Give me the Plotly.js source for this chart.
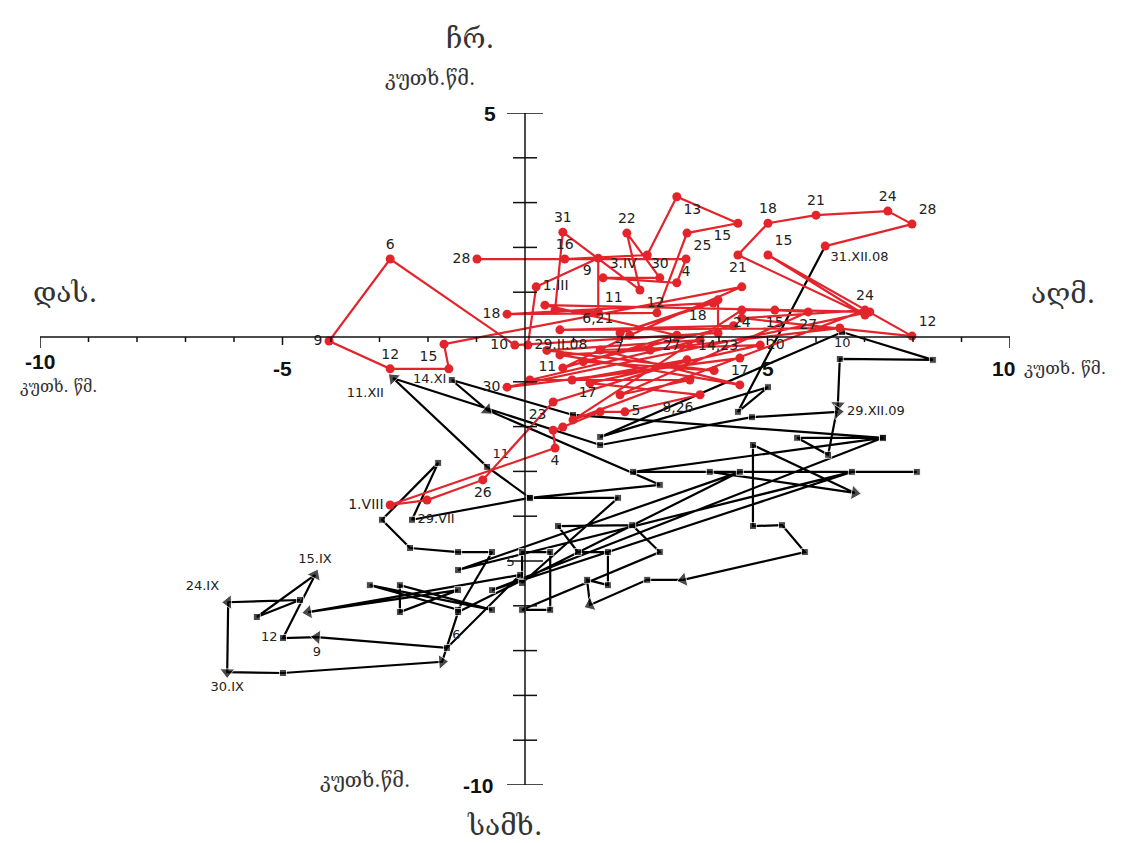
<!DOCTYPE html>
<html><head><meta charset="utf-8">
<script src="https://cdn.plot.ly/plotly-3.0.1.min.js"></script>
<style>body{margin:0;background:#fff}#chart{width:1139px;height:843px}</style>
</head><body><div id="chart"></div>
<script>
// 2008 track (red)
const redX = [0.06,0.23,1.51,1.51,0.62,0.78,2.37,2.10,2.78,1.61,
  3.13,3.32,-0.99,0.82,2.52,3.13,4.39,3.34,2.72,-0.37,
  3.88,1.96,3.98,3.98,-0.21,-2.78,-4.04,-2.78,-1.57,-1.67,
  4.47,2.16,0.78,3.13,0.41,7.11,-0.37,4.43,0.97,3.34,
  0.58,-0.87,-2.02,-2.78,0.62,0.58,0.78,1.55,2.06,3.61,
  1.34,4.85,1.55,4.43,0.72,2.58,6.49,0.72,4.30,1.20,
  3.90,0.45,3.61,0.10,3.40,1.96,5.84,5.15,4.47,0.99,
  7.01,4.47,7.98,5.01,7.01,4.39,5.01,6.00,7.48,7.98,
  6.19];
const redY = [-0.18,1.12,1.76,0.56,0.60,2.34,1.05,2.32,1.32,1.32,
  1.21,1.74,1.74,1.74,1.83,3.13,2.54,2.32,0.54,0.51,
  0.76,0.09,0.83,0.09,-0.18,1.74,-0.09,-0.71,-0.71,-0.16,
  1.12,0.04,-0.69,0.04,0.71,0.56,-1.12,-0.47,-0.96,-0.51,
  -1.45,-3.19,-3.64,-3.75,-2.48,-2.08,-2.01,-1.67,-1.67,-1.29,
  -1.03,-0.18,-0.29,-1.07,-0.40,-0.29,0.20,0.16,0.25,-0.55,
  -0.75,-0.30,-0.07,-0.96,-0.96,-1.29,0.56,0.60,0.60,-1.85,
  0.60,0.42,0.02,1.83,0.49,1.83,2.54,2.72,2.81,2.52,
  2.03];
const redLabels = ["29.II.08","1.III","9","11","","31","12","22","30","3.IV",
  "","4","28","16","","13","15","25","","18",
  "18","6,21","","14,23","10","6","9","12","","15",
  "","7","11","","","","30","17","17","27",
  "23","26","","1.VIII","4","","","","5","8,26",
  "","20","","","","","","","","",
  "","","","","","","27","15","24","",
  "24","","12","15","","21","18","21","24","28",
  ""];

// 2009 track (black)
const blackX = [6.19,4.39,5.01,1.55,6.54,8.41,6.49,6.45,6.25,5.61,7.38,2.23,8.08,3.81,6.80,4.70,4.70,5.30,5.77,3.26,2.52,1.34,1.28,1.71,1.71,1.09,0.68,2.21,2.78,-0.06,0.52,0.52,-0.06,-0.06,1.92,0.10,-2.33,-1.79,-2.95,-2.37,-1.38,-0.68,-1.38,-3.20,-0.68,-2.58,-2.58,-1.38,-4.47,-0.10,-1.61,-4.29,-4.99,-4.33,-5.53,-4.64,-6.12,-6.14,-4.99,-1.71,-1.38,4.43,-1.38,6.74,-0.68,7.38,0.99,-1.51,-0.78,2.78,0.10,-0.78,-2.72,1.55,4.68,6.45];
const blackY = [2.03,-1.67,-1.12,-2.23,0.11,-0.51,-0.49,-1.52,-2.63,-2.25,-2.25,-3.01,-3.01,-3.01,-3.48,-2.41,-4.22,-4.20,-4.80,-5.42,-5.42,-5.98,-5.42,-5.54,-4.80,-4.80,-4.22,-4.20,-4.80,-6.09,-6.09,-4.80,-4.80,-5.49,-3.59,-3.59,-4.08,-2.81,-4.08,-4.71,-4.80,-4.80,-6.09,-5.54,-6.09,-5.54,-6.14,-5.65,-6.14,-5.31,-6.94,-6.70,-6.72,-5.31,-6.25,-5.87,-5.92,-7.48,-7.50,-7.25,-6.14,-3.01,-5.20,-3.01,-5.65,-2.25,-1.74,-0.96,-1.63,-3.30,-3.59,-2.90,-0.92,-2.41,-1.79,-1.67];
const blackLabels = ["31.XII.08","","","","10","","","","","","","","","","","","","","","","","","","","","","","","","","","","","","","","29.VII","","","","","","","","","","","","","5","6","9","12","15.IX","","","24.IX","30.IX","","","","","","","","","","14.XI","","","","11","11.XII","","","29.XII.09"];
const blackArrowIdx = [7,14,19,21,48,51,53,56,57,59,68,72,75];

const xTickVals = [-10,-5,5,10];
const xTickText = ["-10","-5","5","10"];
const yTickVals = [5,-10];
const yTickText = ["5","-10"];

// ---- styling ----
const redPosByIdx = {0:"middle right",1:"middle right",2:"bottom left",3:"top right",5:"top center",6:"bottom right",7:"top center",8:"top center",9:"top right",11:"bottom center",12:"middle left",13:"top center",15:"bottom right",16:"bottom left",17:"bottom right",19:"middle left",20:"bottom left",21:"top left",23:"bottom center",24:"middle left",25:"top center",26:"middle left",27:"top center",29:"bottom left",31:"bottom left",32:"middle left",36:"middle left",37:"bottom center",38:"bottom right",39:"top left",40:"bottom left",41:"bottom center",43:"middle left",44:"bottom center",48:"middle right",49:"bottom left",51:"middle right",66:"bottom center",67:"bottom center",68:"bottom center",70:"top center",72:"top right",73:"top right",75:"bottom center",76:"top center",77:"top center",78:"top center",79:"top right"};
const redPos = redX.map((_,i)=> redPosByIdx[i] || "top center");

const blackPosMap = {"31.XII.08":"bottom right","10":"bottom center","29.VII":"middle right","5":"top left","6":"top right","9":"bottom center","12":"middle left","15.IX":"top center","24.IX":"top left","30.IX":"bottom center","14.XI":"middle left","11":"top right","11.XII":"bottom left","29.XII.09":"middle right"};
const blackPos = blackLabels.map(t => blackPosMap[t] || "top center");
const isArrow = blackX.map((_,i)=> blackArrowIdx.includes(i));
const blackSym = isArrow.map(a => a ? "triangle-up" : "square");
const blackSize = isArrow.map(a => a ? 13 : 7);
// arrow heads point along the path, in screen pixels
const PXX = 48.5, PXY = 44.8;
const blackAngle = blackX.map((x,i)=>{
  if (!isArrow[i] || i===0) return 0;
  const dx = (x - blackX[i-1]) * PXX, dy = (blackY[i] - blackY[i-1]) * PXY;
  return Math.atan2(dx, dy) * 180 / Math.PI;
});

const traces = [
  {x: blackX, y: blackY, mode: "lines+markers+text", text: blackLabels, textposition: blackPos,
   textfont: {family: "DejaVu Sans", size: 13, color: "#222"},
   line: {color: "#000", width: 2.2},
   marker: {color: "#000", symbol: blackSym, size: blackSize, angle: blackAngle},
   cliponaxis: false, hoverinfo: "x+y"},
  {x: redX, y: redY, mode: "lines+markers+text", text: redLabels, textposition: redPos,
   textfont: {family: "DejaVu Sans", size: 14, color: "#222"},
   line: {color: "#e3242b", width: 2.2},
   marker: {color: "#e3242b", symbol: "circle", size: 9},
   cliponaxis: false, hoverinfo: "x+y"}
];

const shapes = [
  {type:"line", xref:"x", yref:"y", x0:-10, x1:10, y0:0, y1:0, line:{color:"#111", width:1.5}},
  {type:"line", xref:"x", yref:"y", x0:0, x1:0, y0:-10, y1:5, line:{color:"#111", width:1.5}}
];
for (let i=-10;i<=10;i++){
  if (i===0) continue;
  const len = (Math.abs(i)===10) ? 11 : (Math.abs(i)===5 ? 8 : 5);
  shapes.push({type:"line", xref:"x", yref:"y", ysizemode:"pixel", yanchor:0, x0:i, x1:i, y0:0, y1:-len, line:{color:"#111", width:1.5}});
}
for (let j=-10;j<=5;j++){
  if (j===0) continue;
  const w = (j===5||j===-10||j===-5) ? 18 : 12;
  shapes.push({type:"line", xref:"x", yref:"y", xsizemode:"pixel", xanchor:0, x0:-w, x1:w, y0:j, y1:j, line:{color:"#111", width:1.5}});
}

const geo = "DejaVu Serif, DejaVu Sans";
const P = (px,py)=>({x:(px-40)/970, y:(785-py)/672});
function txt(px,py,text,size,fam){
  const p = P(px,py);
  return {xref:"paper", yref:"paper", x:p.x, y:p.y, text:text, showarrow:false,
          xanchor:"center", yanchor:"middle", font:{family:fam, size:size, color:"#333"}};
}
const annotations = [];
xTickVals.forEach((v,i)=>{
  annotations.push({xref:"x", yref:"y", x:v, y:0, yshift:(v===-10?-24:-31), xshift:(v===10?-7:0), text:"<b>"+xTickText[i]+"</b>",
    showarrow:false, font:{family:"Liberation Sans", size:21, color:"#111"}});
});
yTickVals.forEach((v,i)=>{
  annotations.push({xref:"x", yref:"y", x:0, y:v, xshift:(v===5?-35:-47), text:"<b>"+yTickText[i]+"</b>",
    showarrow:false, font:{family:"Liberation Sans", size:21, color:"#111"}});
});
annotations.push(txt(470,38,"ჩრ.",28,geo));
annotations.push(txt(430,78,"კუთხ.წმ.",20,geo));
annotations.push(txt(65,292,"დას.",28,geo));
annotations.push(txt(1063,293,"აღმ.",28,geo));
annotations.push(txt(505,826,"სამხ.",28,geo));
annotations.push(txt(365,780,"კუთხ.წმ.",20,geo));
annotations.push(txt(1065,368,"კუთხ. წმ.",17,geo));
annotations.push(txt(58,386,"კუთხ. წმ.",16,geo));

const layout = {
  width:1139, height:843,
  margin:{l:40, r:129, t:113, b:58},
  paper_bgcolor:"#fff", plot_bgcolor:"#fff",
  showlegend:false,
  xaxis:{range:[-10,10], visible:false, fixedrange:true},
  yaxis:{range:[-10,5], visible:false, fixedrange:true},
  shapes: shapes,
  annotations: annotations
};
Plotly.newPlot("chart", traces, layout, {displayModeBar:false, staticPlot:true});
</script></body></html>
